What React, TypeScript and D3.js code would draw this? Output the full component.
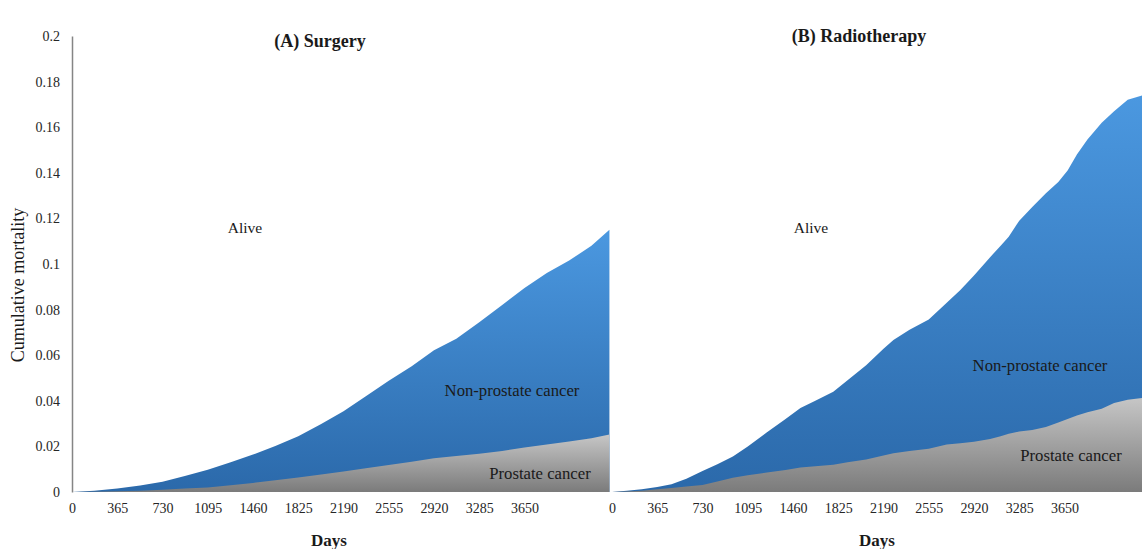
import React, { useEffect, useRef } from 'react'
import * as d3 from 'd3'

// days since diagnosis, cumulative mortality (all causes = top of blue, prostate = top of gray)
const surgeryDays = [0, 180, 365, 550, 730, 910, 1095, 1280, 1460, 1640, 1825, 2010, 2190, 2370, 2555, 2740, 2920, 3100, 3285, 3470, 3650, 3830, 4010, 4190, 4335]
const surgeryTotal = [0, 0.0006, 0.0015, 0.0028, 0.0045, 0.007, 0.0098, 0.013, 0.0164, 0.0202, 0.0245, 0.0298, 0.0354, 0.042, 0.0488, 0.0552, 0.0622, 0.0672, 0.0745, 0.082, 0.0895, 0.096, 0.1015, 0.108, 0.115]
const surgeryProstate = [0, 0.0001, 0.0003, 0.0006, 0.001, 0.0015, 0.002, 0.003, 0.004, 0.0052, 0.0064, 0.0077, 0.009, 0.0104, 0.0118, 0.0133, 0.0148, 0.0158, 0.0168, 0.018, 0.0195, 0.0208, 0.0222, 0.0236, 0.0252]

const radioDays = [0, 120, 240, 365, 480, 600, 730, 850, 975, 1095, 1250, 1400, 1520, 1640, 1785, 1900, 2050, 2190, 2270, 2400, 2555, 2700, 2810, 2920, 3050, 3135, 3200, 3285, 3390, 3500, 3600, 3675, 3750, 3835, 3950, 4050, 4160, 4280]
const radioTotal = [0, 0.0006, 0.0012, 0.0022, 0.0034, 0.0058, 0.0092, 0.0122, 0.0156, 0.02, 0.0262, 0.032, 0.0368, 0.04, 0.044, 0.049, 0.0556, 0.0628, 0.0667, 0.0712, 0.0757, 0.083, 0.0886, 0.095, 0.103, 0.108, 0.112, 0.119, 0.125, 0.131, 0.136, 0.141, 0.148, 0.1546, 0.162, 0.167, 0.172, 0.174]
const radioProstate = [0, 0.0002, 0.0006, 0.0012, 0.0017, 0.0024, 0.0031, 0.0046, 0.0063, 0.0073, 0.0085, 0.0097, 0.0107, 0.0113, 0.012, 0.0131, 0.0142, 0.016, 0.017, 0.018, 0.019, 0.0208, 0.0214, 0.022, 0.0232, 0.0245, 0.0255, 0.0265, 0.0272, 0.0285, 0.0305, 0.032, 0.0335, 0.035, 0.0365, 0.039, 0.0405, 0.0413]

const dayTicks = [0, 365, 730, 1095, 1460, 1825, 2190, 2555, 2920, 3285, 3650]
const mortalityTicks = [0, 0.02, 0.04, 0.06, 0.08, 0.1, 0.12, 0.14, 0.16, 0.18, 0.2]

const FONT = '"Liberation Serif", "Times New Roman", serif'

const App = () => {
  const refSvg = useRef<SVGSVGElement>(null)

  const draw = () => {
    const svg = d3.select(refSvg.current)
    svg.selectAll('*').remove()

    const defs = svg.append('defs')
    const blue = defs.append('linearGradient').attr('id', 'gBlue').attr('x1', 0).attr('y1', 0).attr('x2', 0).attr('y2', 1)
    blue.append('stop').attr('offset', '0%').attr('stop-color', '#4b98e0')
    blue.append('stop').attr('offset', '100%').attr('stop-color', '#2b69aa')
    const gray = defs.append('linearGradient').attr('id', 'gGray').attr('x1', 0).attr('y1', 0).attr('x2', 0).attr('y2', 1)
    gray.append('stop').attr('offset', '0%').attr('stop-color', '#c6c6c6')
    gray.append('stop').attr('offset', '100%').attr('stop-color', '#7b7b7b')

    const y = d3.scaleLinear().domain([0, 0.2]).range([492, 36])
    const pxPerDay = 45.25 / 365

    const panels = [
      { days: surgeryDays, total: surgeryTotal, prostate: surgeryProstate, x0: 72, title: '(A) Surgery', titleX: 320, titleY: 47,
        alive: [245, 233], non: [512, 396], pro: [540, 479], daysX: 329 },
      { days: radioDays, total: radioTotal, prostate: radioProstate, x0: 612, title: '(B) Radiotherapy', titleX: 859, titleY: 42,
        alive: [811, 233], non: [1040, 371], pro: [1071, 461], daysX: 877 },
    ]

    panels.forEach((p) => {
      const maxDay = p.days[p.days.length - 1]
      const x = d3.scaleLinear().domain([0, maxDay]).range([p.x0, p.x0 + maxDay * pxPerDay])
      const idx = d3.range(p.days.length)
      const g = svg.append('g')

      const areaTotal = d3.area<number>().x((i) => x(p.days[i])).y0(y(0)).y1((i) => y(p.total[i]))
      const areaPro = d3.area<number>().x((i) => x(p.days[i])).y0(y(0)).y1((i) => y(p.prostate[i]))
      g.append('path').attr('d', areaTotal(idx)).attr('fill', 'url(#gBlue)')
      g.append('path').attr('d', areaPro(idx)).attr('fill', 'url(#gGray)')

      const xAxis = g.append('g').attr('transform', `translate(0,${y(0)})`)
        .call(d3.axisBottom(x).tickValues(dayTicks).tickSize(0).tickPadding(11).tickFormat((d) => String(d)))
      xAxis.select('.domain').remove()
      xAxis.selectAll('text').attr('font-family', FONT).attr('font-size', 14).attr('fill', '#262626')

      g.append('text').text(p.title).attr('x', p.titleX).attr('y', p.titleY).attr('text-anchor', 'middle')
        .attr('font-family', FONT).attr('font-size', 18).attr('font-weight', 'bold').attr('fill', '#1a1a1a')
      g.append('text').text('Days').attr('x', p.daysX).attr('y', 546).attr('text-anchor', 'middle')
        .attr('font-family', FONT).attr('font-size', 17).attr('font-weight', 'bold').attr('fill', '#1a1a1a')

      const label = (t: string, pos: number[], size: number) =>
        g.append('text').text(t).attr('x', pos[0]).attr('y', pos[1]).attr('text-anchor', 'middle')
          .attr('font-family', FONT).attr('font-size', size).attr('fill', '#1a1a1a')
      label('Alive', p.alive, 15.5)
      label('Non-prostate cancer', p.non, 16.7)
      label('Prostate cancer', p.pro, 16.7)
    })

    const yAxis = svg.append('g').attr('transform', 'translate(72,0)')
      .call(d3.axisLeft(y).tickValues(mortalityTicks).tickSize(0).tickPadding(12).tickFormat((d) => String(+(+d).toFixed(2))))
    yAxis.select('.domain').attr('stroke', '#858585').attr('stroke-width', 1.5)
    yAxis.selectAll('text').attr('font-family', FONT).attr('font-size', 14).attr('fill', '#262626')

    svg.append('text').text('Cumulative mortality').attr('transform', 'translate(24,285) rotate(-90)')
      .attr('text-anchor', 'middle').attr('font-family', FONT).attr('font-size', 18).attr('fill', '#1a1a1a')
  }

  useEffect(() => {
    if (refSvg.current) {
      draw()
    }
  })

  return (
    <svg ref={refSvg} width={1142} height={549} style={{ position: 'fixed', left: 0, top: 0, background: '#fff' }} />
  )
}

export default App
